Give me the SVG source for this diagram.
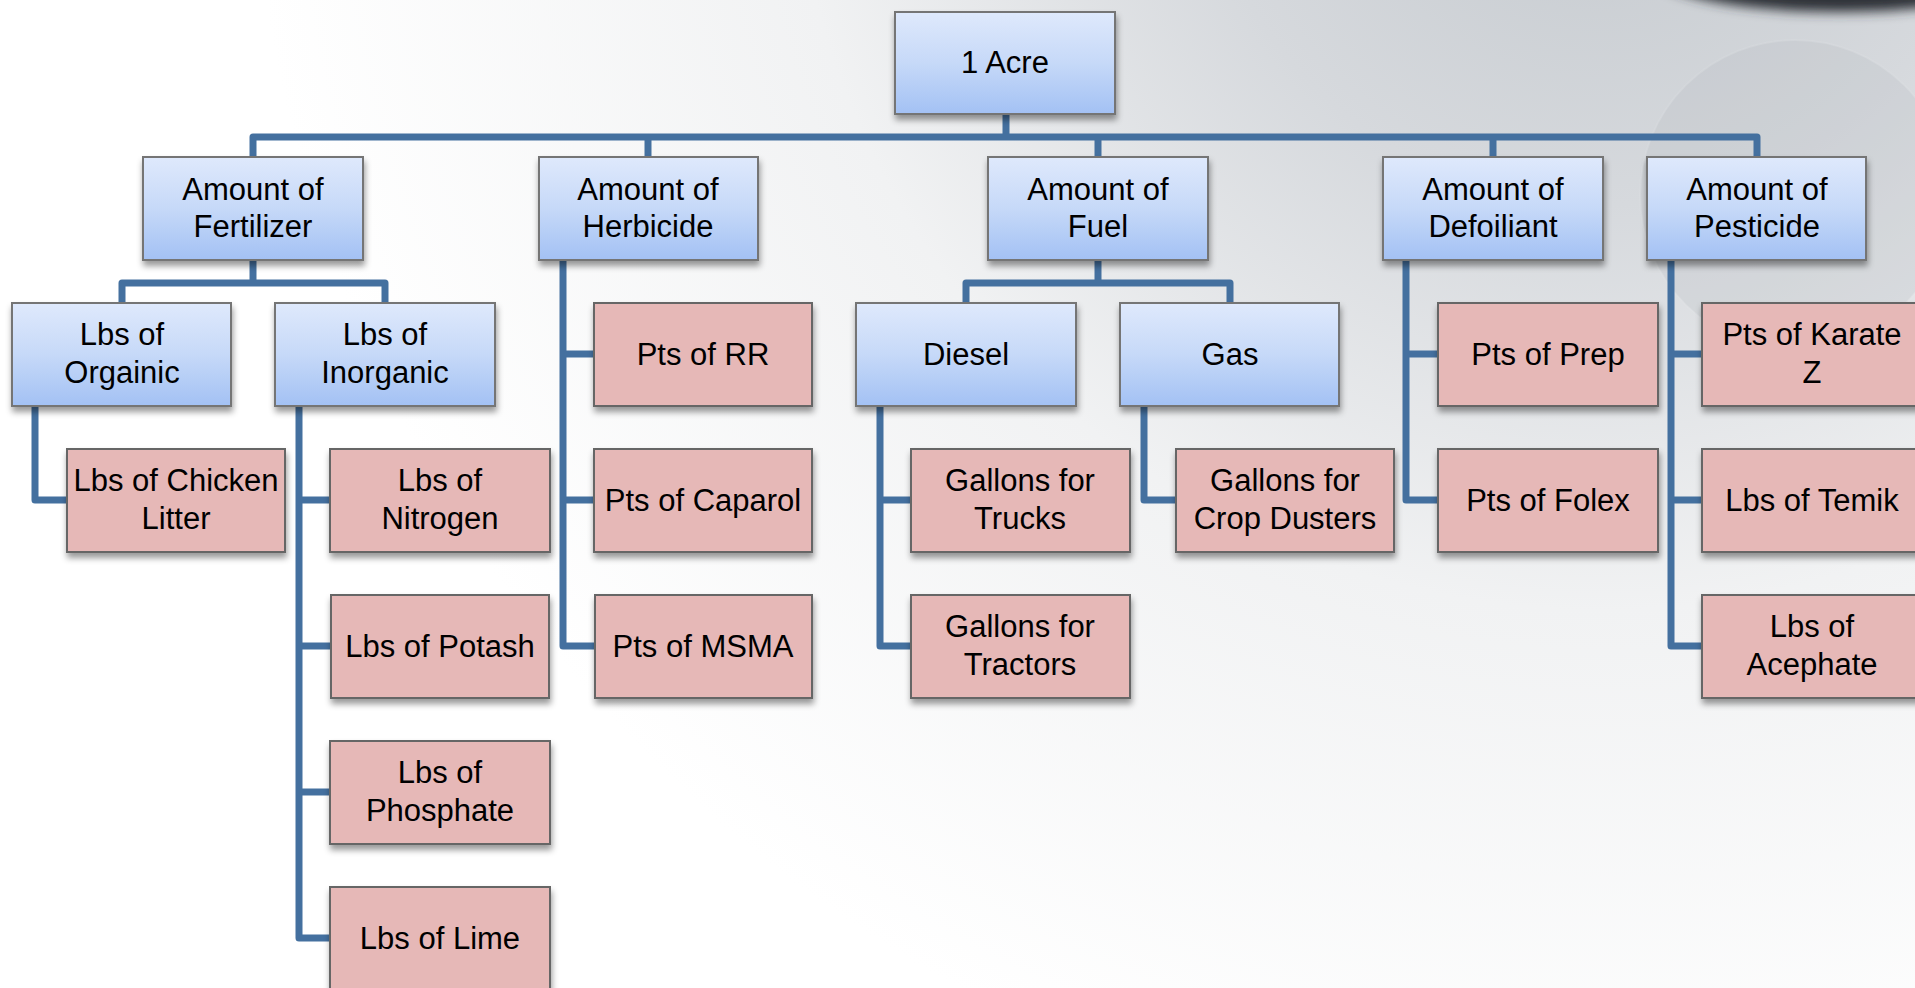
<svg xmlns="http://www.w3.org/2000/svg" width="1915" height="988" viewBox="0 0 1915 988">
<defs>
<radialGradient id="bg" cx="1600" cy="-200" r="1350" gradientUnits="userSpaceOnUse">
<stop offset="0" stop-color="#c3c8cd"/>
<stop offset="0.3" stop-color="#d6d9dd"/>
<stop offset="0.6" stop-color="#f1f2f3"/>
<stop offset="1" stop-color="#ffffff"/>
</radialGradient>
<linearGradient id="blue" x1="0" y1="0" x2="0" y2="1">
<stop offset="0" stop-color="#dfe9fc"/>
<stop offset="0.5" stop-color="#c6d9f8"/>
<stop offset="1" stop-color="#a3c1f4"/>
</linearGradient>
<filter id="sh" x="-10%" y="-10%" width="120%" height="130%">
<feDropShadow dx="1" dy="5" stdDeviation="3" flood-color="#000" flood-opacity="0.4"/>
</filter>
<filter id="blur" x="-50%" y="-50%" width="200%" height="200%">
<feGaussianBlur stdDeviation="6"/>
</filter>
</defs>
<style>
.b{fill:url(#blue);stroke:#747474;stroke-width:2;filter:url(#sh)}
.p{fill:#e6b8b7;stroke:#666;stroke-width:2;filter:url(#sh)}
text{font-family:"Liberation Sans",Arial,sans-serif;font-size:31px;fill:#000;text-anchor:middle}
#connectors path{fill:none;stroke:#44709f;stroke-width:7;stroke-linejoin:round;stroke-linecap:butt}
</style>
<rect width="1915" height="988" fill="url(#bg)"/>
<circle cx="1795" cy="195" r="155" fill="#b4b9bf" opacity="0.22" stroke="#eef0f2" stroke-opacity="0.5" stroke-width="2"/>
<ellipse cx="1840" cy="-30" rx="190" ry="42" fill="#2f3337" filter="url(#blur)"/>

<g id="connectors">
<path d="M1006,114 V137"/>
<path d="M253,157 V137 H1757 V157"/>
<path d="M648,137 V157"/>
<path d="M1098,137 V157"/>
<path d="M1493,137 V157"/>
<path d="M253,260 V283"/>
<path d="M122,303 V283 H385 V303"/>
<path d="M563,260 V646 H594"/>
<path d="M563,354 H594"/>
<path d="M563,500 H594"/>
<path d="M1098,260 V283"/>
<path d="M966,303 V283 H1230 V303"/>
<path d="M1406,260 V500 H1438"/>
<path d="M1406,354 H1438"/>
<path d="M1671,260 V646 H1702"/>
<path d="M1671,354 H1702"/>
<path d="M1671,500 H1702"/>
<path d="M35,406 V500 H67"/>
<path d="M299,406 V938 H330"/>
<path d="M299,500 H330"/>
<path d="M299,646 H330"/>
<path d="M299,792 H330"/>
<path d="M880,406 V646 H911"/>
<path d="M880,500 H911"/>
<path d="M1144,406 V500 H1176"/>
</g>

<g id="n-root"><rect class="b" x="895" y="12" width="220" height="102"/><text x="1005" y="73">1 Acre</text></g>
<g id="n-fert"><rect class="b" x="143" y="157" width="220" height="103"/><text x="253" y="200">Amount of</text><text x="253" y="237">Fertilizer</text></g>
<g id="n-herb"><rect class="b" x="539" y="157" width="219" height="103"/><text x="648" y="200">Amount of</text><text x="648" y="237">Herbicide</text></g>
<g id="n-fuel"><rect class="b" x="988" y="157" width="220" height="103"/><text x="1098" y="200">Amount of</text><text x="1098" y="237">Fuel</text></g>
<g id="n-defo"><rect class="b" x="1383" y="157" width="220" height="103"/><text x="1493" y="200">Amount of</text><text x="1493" y="237">Defoiliant</text></g>
<g id="n-pest"><rect class="b" x="1647" y="157" width="219" height="103"/><text x="1757" y="200">Amount of</text><text x="1757" y="237">Pesticide</text></g>

<g id="n-org"><rect class="b" x="12" y="303" width="219" height="103"/><text x="122" y="345">Lbs of</text><text x="122" y="383">Orgainic</text></g>
<g id="n-inorg"><rect class="b" x="275" y="303" width="220" height="103"/><text x="385" y="345">Lbs of</text><text x="385" y="383">Inorganic</text></g>
<g id="n-rr"><rect class="p" x="594" y="303" width="218" height="103"/><text x="703" y="365">Pts of RR</text></g>
<g id="n-diesel"><rect class="b" x="856" y="303" width="220" height="103"/><text x="966" y="365">Diesel</text></g>
<g id="n-gas"><rect class="b" x="1120" y="303" width="219" height="103"/><text x="1230" y="365">Gas</text></g>
<g id="n-prep"><rect class="p" x="1438" y="303" width="220" height="103"/><text x="1548" y="365">Pts of Prep</text></g>
<g id="n-karate"><rect class="p" x="1702" y="303" width="220" height="103"/><text x="1812" y="345">Pts of Karate</text><text x="1812" y="383">Z</text></g>

<g id="n-chicken"><rect class="p" x="67" y="449" width="218" height="103"/><text x="176" y="491">Lbs of Chicken</text><text x="176" y="529">Litter</text></g>
<g id="n-nitrogen"><rect class="p" x="330" y="449" width="220" height="103"/><text x="440" y="491">Lbs of</text><text x="440" y="529">Nitrogen</text></g>
<g id="n-caparol"><rect class="p" x="594" y="449" width="218" height="103"/><text x="703" y="511">Pts of Caparol</text></g>
<g id="n-trucks"><rect class="p" x="911" y="449" width="219" height="103"/><text x="1020" y="491">Gallons for</text><text x="1020" y="529">Trucks</text></g>
<g id="n-dusters"><rect class="p" x="1176" y="449" width="218" height="103"/><text x="1285" y="491">Gallons for</text><text x="1285" y="529">Crop Dusters</text></g>
<g id="n-folex"><rect class="p" x="1438" y="449" width="220" height="103"/><text x="1548" y="511">Pts of Folex</text></g>
<g id="n-temik"><rect class="p" x="1702" y="449" width="220" height="103"/><text x="1812" y="511">Lbs of Temik</text></g>

<g id="n-potash"><rect class="p" x="331" y="595" width="218" height="103"/><text x="440" y="657">Lbs of Potash</text></g>
<g id="n-msma"><rect class="p" x="595" y="595" width="217" height="103"/><text x="703" y="657">Pts of MSMA</text></g>
<g id="n-tractors"><rect class="p" x="911" y="595" width="219" height="103"/><text x="1020" y="637">Gallons for</text><text x="1020" y="675">Tractors</text></g>
<g id="n-acephate"><rect class="p" x="1702" y="595" width="220" height="103"/><text x="1812" y="637">Lbs of</text><text x="1812" y="675">Acephate</text></g>

<g id="n-phosphate"><rect class="p" x="330" y="741" width="220" height="103"/><text x="440" y="783">Lbs of</text><text x="440" y="821">Phosphate</text></g>
<g id="n-lime"><rect class="p" x="330" y="887" width="220" height="103"/><text x="440" y="949">Lbs of Lime</text></g>
</svg>
